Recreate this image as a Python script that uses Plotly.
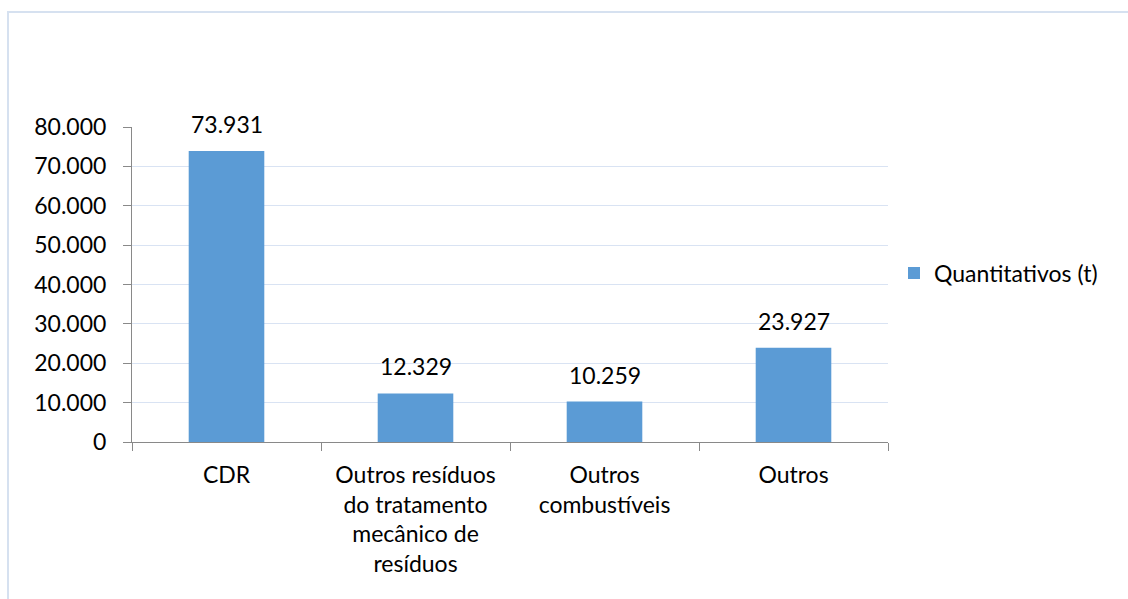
import plotly.graph_objects as go

categories = ["CDR", "Outros resíduos<br>do tratamento<br>mecânico de<br>resíduos",
              "Outros<br>combustíveis", "Outros"]
values = [73931, 12329, 10259, 23927]
series_name = "Quantitativos (t)"
y_ticks = [0, 10000, 20000, 30000, 40000, 50000, 60000, 70000, 80000]

W, H = 1128, 599
L, R, T, B = 132, 240, 127, 157
pw, ph = W - L - R, H - T - B

FONT = "Lato"
FS = 23
fig = go.Figure()
fig.add_trace(go.Bar(
    x=categories, y=values, name=series_name,
    marker=dict(color="#5B9BD5", line=dict(width=0)),
    showlegend=True,
))

for c, v in zip(categories, values):
    fig.add_annotation(x=c, y=v, xref="x", yref="y",
                       text=f"{v:,}".replace(",", "."),
                       showarrow=False, yanchor="bottom", yshift=11,
                       font=dict(family=FONT, size=FS, color="#000000"))

def px_x(p):
    return (p - L) / pw

def px_y(p):
    return (H - B - p) / ph

fig.add_shape(type="rect", xref="paper", yref="paper",
              x0=px_x(8), x1=px_x(W + 20), y0=px_y(12), y1=px_y(H + 20),
              line=dict(color="#D6E1F0", width=2), fillcolor="rgba(0,0,0,0)",
              layer="below")

fig.update_layout(
    width=W, height=H,
    margin=dict(l=L, r=R, t=T, b=B, pad=0),
    paper_bgcolor="white", plot_bgcolor="white",
    separators=",.",
    bargap=0.6,
    font=dict(family=FONT, size=FS, color="#000000"),
    legend=dict(x=px_x(894), y=px_y(273), xanchor="left", yanchor="middle",
                font=dict(family=FONT, size=FS, color="#000000"),
                bgcolor="rgba(0,0,0,0)"),
    xaxis=dict(type="category", tickson="boundaries", ticks="outside",
               ticklen=8, tickcolor="#898989", tickwidth=1,
               showline=True, linecolor="#898989", linewidth=1,
               showgrid=False, ticklabelstandoff=12,
               tickfont=dict(family=FONT, size=FS, color="#000000")),
    yaxis=dict(range=[0, 80000], tickvals=y_ticks, tickformat=",d",
               ticks="outside", ticklen=8, tickcolor="#898989", tickwidth=1,
               showline=True, linecolor="#898989", linewidth=1,
               gridcolor="#D9E3F3", gridwidth=1, zeroline=False,
               ticklabelstandoff=12,
               tickfont=dict(family=FONT, size=FS, color="#000000")),
)

fig.write_html("out.html", config={"displayModeBar": False},
               post_script="document.body.style.margin='0';")
